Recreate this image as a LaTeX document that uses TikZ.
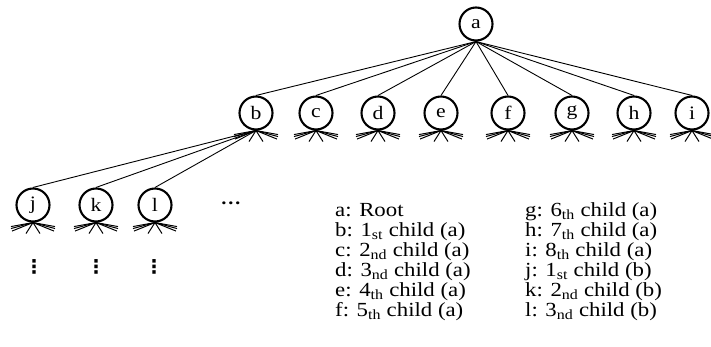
\documentclass[tikz,border=0pt]{standalone}
\usepackage{fontspec}
\setmainfont{Liberation Serif}[FakeStretch=1.14]
\newfontfamily\dotsfont{DejaVu Sans}
\begin{document}
\begin{tikzpicture}[x=1pt,y=-1pt,
  tn/.style={circle,draw,line width=2.1pt,minimum size=33pt,inner sep=0pt,font=\fontsize{19}{19}\selectfont},
  edge/.style={line width=0.9pt},
  fanline/.style={line width=1pt},
  leg/.style={anchor=base west,inner sep=0pt,font=\fontsize{20}{20}\selectfont},
  dotsnode/.style={inner sep=0pt,font=\fontsize{18}{18}\selectfont},
  vdotsnode/.style={inner sep=0pt,font=\dotsfont\bfseries\fontsize{19}{19}\selectfont}]
\useasboundingbox (0,0) rectangle (711,346);
\newcommand\myfan[1]{\foreach \dx/\dy in {-22/4,-22/6,-21/8.5,-7/11,7/11,21/8.5,22/6,22/4}{\draw[fanline] (#1.south) -- ++(\dx,\dy);}}
% nodes
\node[tn] (a) at (476,24) {a};
\node[tn] (b) at (256,113) {b};
\node[tn] (c) at (316,113) {c};
\node[tn] (d) at (378,113) {d};
\node[tn] (e) at (441,113) {e};
\node[tn] (f) at (508,113) {f};
\node[tn] (g) at (572,113) {g};
\node[tn] (h) at (634,113) {h};
\node[tn] (i) at (692,113) {i};
\node[tn] (j) at (33,205) {j};
\node[tn] (k) at (96,205) {k};
\node[tn] (l) at (155,205) {l};
% edges
\foreach \n in {b,c,d,e,f,g,h,i}{\draw[edge] (a.south) -- (\n.north);}
\foreach \n in {j,k,l}{\draw[edge] (b.south) -- (\n.north);}
% fans
\foreach \n in {b,c,d,e,f,g,h,i,j,k,l}{\myfan{\n}}
% dots
\node[dotsnode] (hd) at (231,203) {\textbf{\dots}};
\node[vdotsnode] (vj) at (34,267) {⋮};
\node[vdotsnode] (vk) at (96,267) {⋮};
\node[vdotsnode] (vl) at (154,267) {⋮};
% legend
\node[leg] (la) at (335,216) {a: Root};
\node[leg] (lb) at (335,236) {b: 1\textsubscript{st} child (a)};
\node[leg] (lc) at (335,256) {c: 2\textsubscript{nd} child (a)};
\node[leg] (ld) at (335,276) {d: 3\textsubscript{nd} child (a)};
\node[leg] (le) at (335,296) {e: 4\textsubscript{th} child (a)};
\node[leg] (lf) at (335,316) {f: 5\textsubscript{th} child (a)};
\node[leg] (lg) at (525,216) {g: 6\textsubscript{th} child (a)};
\node[leg] (lh) at (525,236) {h: 7\textsubscript{th} child (a)};
\node[leg] (li) at (525,256) {i: 8\textsubscript{th} child (a)};
\node[leg] (lj) at (525,276) {j: 1\textsubscript{st} child (b)};
\node[leg] (lk) at (525,296) {k: 2\textsubscript{nd} child (b)};
\node[leg] (ll) at (525,316) {l: 3\textsubscript{nd} child (b)};
\end{tikzpicture}
\end{document}
